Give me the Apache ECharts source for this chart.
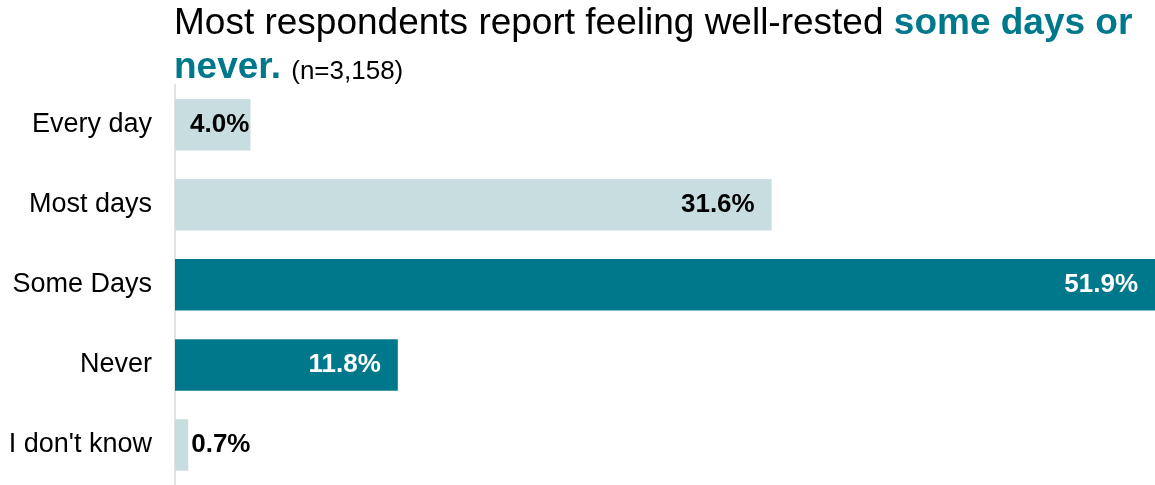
<!DOCTYPE html>
<html style="height: 100%">
  <head>
    <meta charset="UTF-8" />
    <title>ECharts</title>
    <script src="https://cdn.jsdelivr.net/npm/echarts/dist/echarts.min.js"></script>
  </head>
  <body style="height: 100%; margin: 0">
    <div id="main" style="width: 1155px; height: 485px"></div>
    <script>
      var categories = ['Every day', 'Most days', 'Some Days', 'Never', "I don't know"];
      var values = [4.0, 31.6, 51.9, 11.8, 0.7];
      // categories named in the title, drawn in dark teal
      var highlighted = ['Some Days', 'Never'];

      var DARK = '#00788c';
      var LIGHT = '#c8dddf';
      var FONT = "'Liberation Sans', Arial, sans-serif";

      var chartDom = document.getElementById('main');
      var myChart = echarts.init(chartDom);
      var option;

      var barData = values.map(function (v, i) {
        var dark = highlighted.indexOf(categories[i]) >= 0;
        var item = {
          value: v,
          itemStyle: { color: dark ? DARK : LIGHT },
          label: { color: dark ? '#fff' : '#000' }
        };
        // short bars: label sits just past the axis / bar end
        if (v < 2) {
          item.label.position = 'right';
          item.label.distance = 3;
        } else if (v < 8) {
          item.label.position = 'insideLeft';
          item.label.distance = 15;
        }
        return item;
      });

      option = {
        animation: false,
        textStyle: { fontFamily: FONT },
        title: {
          left: 174,
          top: 1.5,
          padding: 0,
          text:
            '{a|Most respondents report feeling well-rested }{b|some days or}\n' +
            '{b|never. }{c|(n=3,158)}',
          textStyle: {
            fontFamily: FONT,
            fontSize: 26,
            fontWeight: 'normal',
            rich: {
              a: { fontSize: 37, color: '#000', fontWeight: 'normal', lineHeight: 44, fontFamily: FONT },
              b: { fontSize: 37, color: DARK, fontWeight: 'bold', lineHeight: 44, fontFamily: FONT },
              c: { fontSize: 26, color: '#000', fontWeight: 'normal', lineHeight: 44, padding: [9, 0, 0, 0], fontFamily: FONT }
            }
          }
        },
        grid: {
          left: 175,
          right: 0,
          top: 84.6,
          height: 403.5,
          containLabel: false
        },
        xAxis: {
          type: 'value',
          min: 0,
          max: 51.9,
          show: false
        },
        yAxis: {
          type: 'category',
          data: categories,
          inverse: true,
          axisLine: { show: true, lineStyle: { color: '#d9d9d9', width: 1.5 } },
          axisTick: { show: false },
          splitLine: { show: false },
          axisLabel: {
            margin: 23,
            fontSize: 27,
            color: '#000',
            fontFamily: FONT
          }
        },
        series: [
          {
            type: 'bar',
            barWidth: 51.5,
            data: barData,
            label: {
              show: true,
              position: 'insideRight',
              distance: 17,
              fontSize: 26,
              fontWeight: 'bold',
              fontFamily: FONT,
              formatter: function (p) {
                return p.value.toFixed(1) + '%';
              }
            }
          }
        ]
      };

      option && myChart.setOption(option);
    </script>
  </body>
</html>
